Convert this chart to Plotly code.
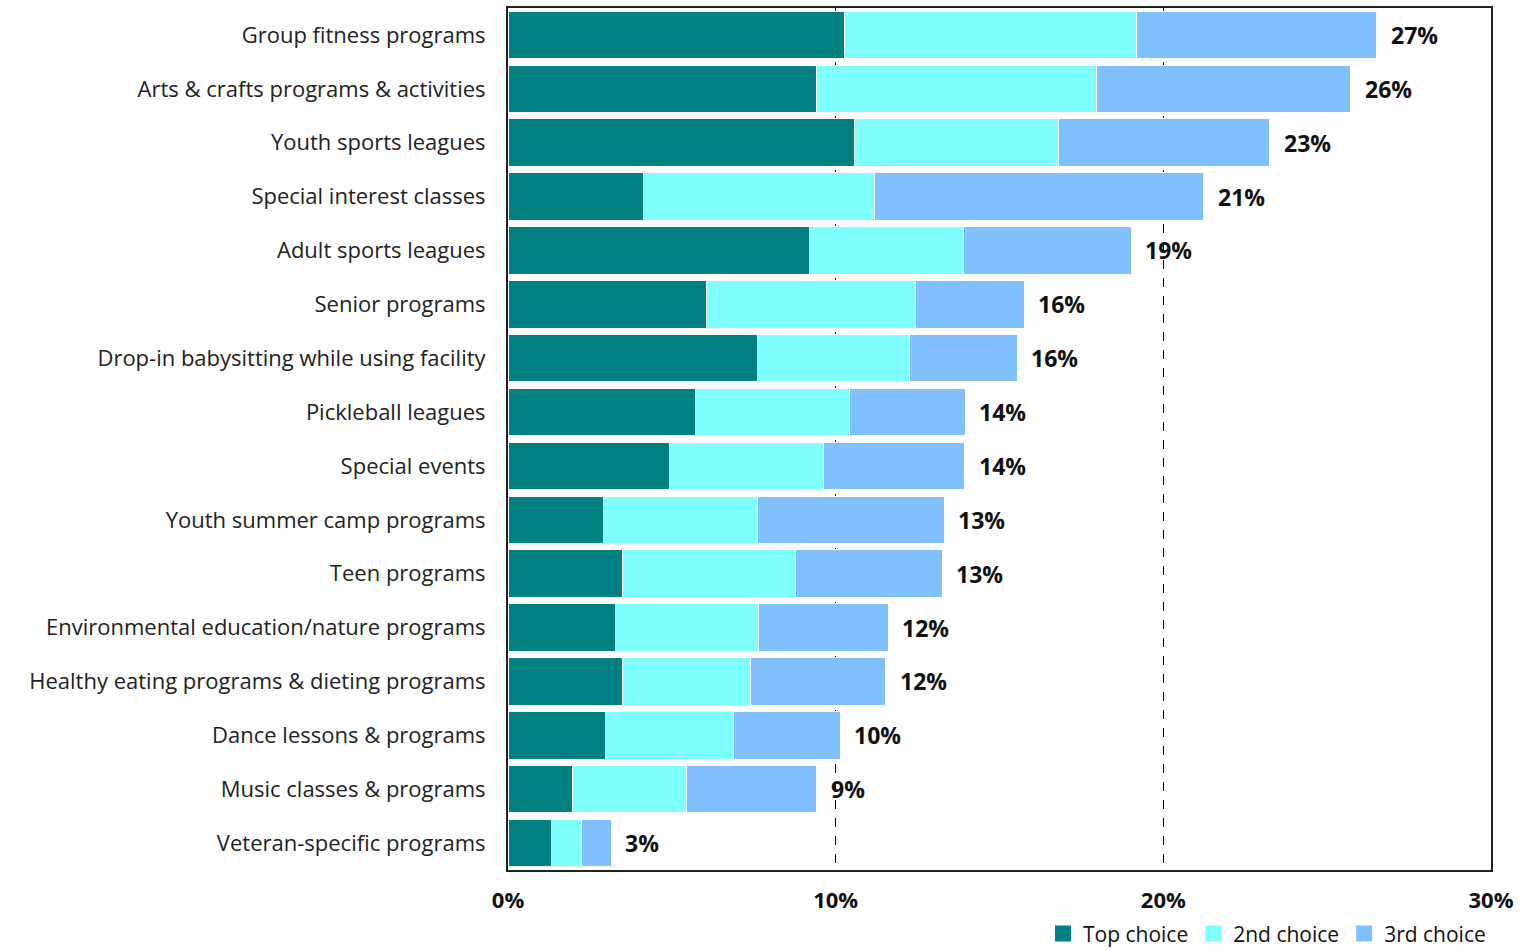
import plotly.graph_objects as go

categories = [
    "Group fitness programs",
    "Arts & crafts programs & activities",
    "Youth sports leagues",
    "Special interest classes",
    "Adult sports leagues",
    "Senior programs",
    "Drop-in babysitting while using facility",
    "Pickleball leagues",
    "Special events",
    "Youth summer camp programs",
    "Teen programs",
    "Environmental education/nature programs",
    "Healthy eating programs & dieting programs",
    "Dance lessons & programs",
    "Music classes & programs",
    "Veteran-specific programs",
]

top_choice = [10.28, 9.40, 10.56, 4.15, 9.19, 6.07, 7.60, 5.71, 4.94, 2.90, 3.48, 3.27, 3.48, 2.99, 1.98, 1.34]
second_choice = [8.91, 8.57, 6.25, 7.05, 4.70, 6.38, 4.64, 4.70, 4.70, 4.70, 5.28, 4.39, 3.91, 3.88, 3.48, 0.89]
third_choice = [7.33, 7.75, 6.44, 10.04, 5.13, 3.30, 3.30, 3.54, 4.30, 5.71, 4.49, 3.94, 4.14, 3.27, 3.97, 0.92]

series_names = ["Top choice", "2nd choice", "3rd choice"]
series_colors = ["#008080", "#80FFFF", "#80C0FF"]

tick_values = [0, 10, 20, 30]
tick_labels = ["0%", "10%", "20%", "30%"]

totals = [a + b + c for a, b, c in zip(top_choice, second_choice, third_choice)]

FONT = "'Open Sans', Lato, sans-serif"

fig = go.Figure()
for name, vals, color in zip(series_names, [top_choice, second_choice, third_choice], series_colors):
    fig.add_trace(go.Bar(
        y=categories, x=vals, name=name, orientation="h",
        marker=dict(color=color, line=dict(color="white", width=1)),
        hoverinfo="x+y+name", showlegend=False,
    ))

# legend entries with large square swatches
for name, color in zip(series_names, series_colors):
    fig.add_trace(go.Scatter(
        x=[None], y=[None], mode="markers", name=name,
        marker=dict(symbol="square", size=22, color=color),
        showlegend=True, hoverinfo="skip",
    ))

# total labels beside each bar
for cat, tot in zip(categories, totals):
    fig.add_annotation(
        x=tot, y=cat, xref="x", yref="y",
        text=f"<b>{tot:.0f}%</b>", showarrow=False,
        xanchor="left", yanchor="middle", xshift=12,
        font=dict(family=FONT, size=23, color="#111111"),
    )

fig.update_layout(
    barmode="stack",
    bargap=0.12,
    width=1522, height=950,
    margin=dict(l=508, r=31, t=8, b=80, autoexpand=False),
    paper_bgcolor="white", plot_bgcolor="white",
    font=dict(family=FONT, size=22, color="#222222"),
    legend=dict(
        orientation="h", x=1.0, xanchor="right", y=-0.074, yanchor="middle",
        font=dict(family=FONT, size=21, color="#111111"),
        itemsizing="trace", itemwidth=30, tracegroupgap=0, traceorder="normal",
        bgcolor="rgba(0,0,0,0)",
    ),
    showlegend=True,
)

fig.update_xaxes(
    range=[0, 30], tickvals=tick_values, ticktext=[f"<b>{t}</b>" for t in tick_labels],
    showgrid=True, gridcolor="#000000", gridwidth=1, griddash="dash",
    zeroline=False, showline=True, linecolor="#222222", linewidth=2, mirror=True,
    ticks="", ticklabelstandoff=10,
    tickfont=dict(family=FONT, size=22, color="#111111"),
)
fig.update_yaxes(
    autorange="reversed", showgrid=False, showline=True, linecolor="#222222",
    linewidth=2, mirror=True, ticks="", ticklabelstandoff=16,
    tickfont=dict(family=FONT, size=22, color="#222222"),
)

fig.write_html("out.html")
